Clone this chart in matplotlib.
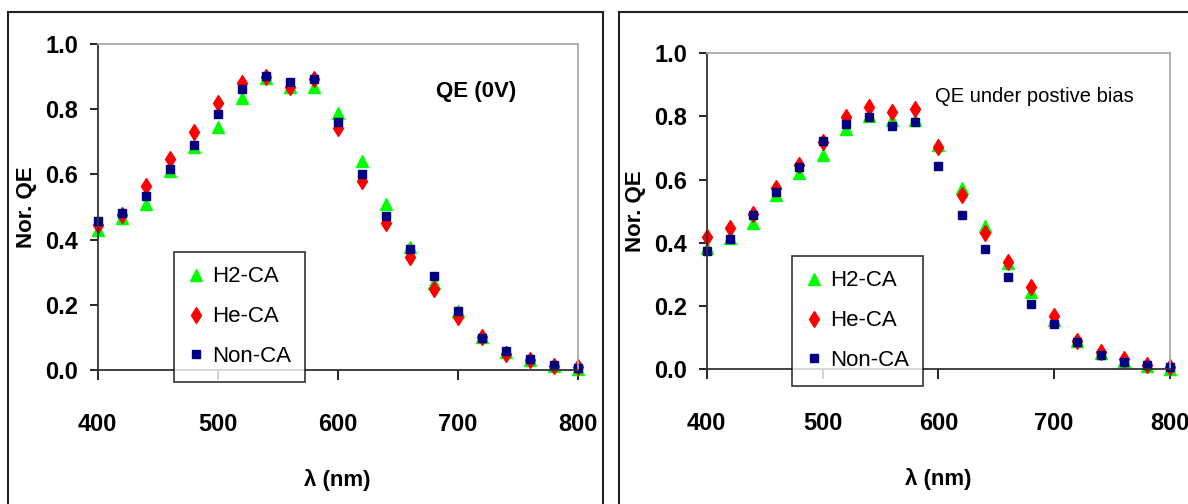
import matplotlib.pyplot as plt
import matplotlib.patches as patches

# wavelength (nm)
wavelength = [400, 420, 440, 460, 480, 500, 520, 540, 560, 580, 600,
              620, 640, 660, 680, 700, 720, 740, 760, 780, 800]

# QE at 0 V
h2_0v = [0.430, 0.465, 0.509, 0.610, 0.685, 0.746, 0.833, 0.895, 0.867, 0.867, 0.789,
         0.642, 0.509, 0.378, 0.268, 0.180, 0.100, 0.055, 0.030, 0.012, 0.003]
he_0v = [0.445, 0.475, 0.565, 0.646, 0.731, 0.820, 0.879, 0.900, 0.869, 0.893, 0.741,
         0.581, 0.452, 0.348, 0.250, 0.164, 0.100, 0.050, 0.030, 0.012, 0.010]
non_0v = [0.458, 0.483, 0.534, 0.616, 0.690, 0.785, 0.861, 0.903, 0.884, 0.893, 0.762,
          0.600, 0.472, 0.371, 0.288, 0.181, 0.098, 0.059, 0.034, 0.015, 0.006]

# QE under positive bias
h2_pb = [0.382, 0.415, 0.461, 0.551, 0.620, 0.678, 0.759, 0.800, 0.790, 0.790, 0.710,
         0.572, 0.453, 0.335, 0.243, 0.155, 0.090, 0.050, 0.025, 0.010, 0.000]
he_pb = [0.419, 0.446, 0.490, 0.572, 0.645, 0.720, 0.797, 0.829, 0.815, 0.825, 0.702,
         0.551, 0.430, 0.340, 0.261, 0.168, 0.090, 0.055, 0.033, 0.013, 0.005]
non_pb = [0.375, 0.412, 0.488, 0.562, 0.639, 0.723, 0.775, 0.797, 0.771, 0.783, 0.643,
          0.488, 0.381, 0.292, 0.207, 0.144, 0.087, 0.044, 0.023, 0.014, 0.005]

labels = ['H2-CA', 'He-CA', 'Non-CA']
plt.rcParams['font.family'] = ['Liberation Sans', 'DejaVu Sans']

fig = plt.figure(figsize=(11.88, 5.04), dpi=100)
W, H = 1188.0, 504.0

# panel frames
for x0, x1 in [(8, 603), (619, 1190)]:
    fig.patches.append(patches.Rectangle((x0 / W, -0.05), (x1 - x0) / W, (504 - 12) / H + 0.05,
                                         transform=fig.transFigure, fill=False,
                                         edgecolor='#222222', linewidth=1.5))


def draw_panel(rect, h2, he, non, title, title_xy, title_kw, leg_xy):
    ax = fig.add_axes(rect)
    ax.plot(wavelength, h2, linestyle='none', marker='^', ms=8, color='#00ff00', label=labels[0], clip_on=False)
    ax.plot(wavelength, he, linestyle='none', marker='d', ms=8, color='#ff0000', label=labels[1], clip_on=False)
    ax.plot(wavelength, non, linestyle='none', marker='s', ms=6, color='#000080', label=labels[2], clip_on=False)
    ax.set_xlim(400, 800)
    ax.set_ylim(0, 1.0)
    ax.set_xticks([400, 500, 600, 700, 800])
    ax.set_yticks([0.0, 0.2, 0.4, 0.6, 0.8, 1.0])
    ax.set_yticklabels(['0.0', '0.2', '0.4', '0.6', '0.8', '1.0'])
    ax.spines['left'].set_color('#333333')
    ax.spines['bottom'].set_color('#333333')
    ax.spines['top'].set_color('#aaaaaa')
    ax.spines['right'].set_color('#aaaaaa')
    for s in ax.spines.values():
        s.set_linewidth(1.3)
    ax.tick_params(axis='y', direction='out', length=6, width=1.2, pad=8, labelsize=17)
    ax.tick_params(axis='x', direction='out', length=7, width=1.2, pad=24, labelsize=17)
    for t in ax.get_xticklabels() + ax.get_yticklabels():
        t.set_fontweight('bold')
    ax.set_xlabel('λ (nm)', fontsize=16, fontweight='bold', labelpad=24)
    ax.set_ylabel('Nor. QE', fontsize=16, fontweight='bold', labelpad=6)
    fig.text(title_xy[0] / W, 1 - title_xy[1] / H, title, va='center', **title_kw)
    leg = ax.legend(loc='upper left', bbox_to_anchor=(leg_xy[0] / W, 1 - leg_xy[1] / H),
                    bbox_transform=fig.transFigure, fontsize=16, frameon=True, fancybox=False,
                    edgecolor='black', handlelength=0.7, handletextpad=0.35, labelspacing=0.85,
                    borderpad=0.65, borderaxespad=0, markerscale=1.0)
    leg.get_frame().set_linewidth(1.2)
    leg.set_zorder(10)
    return ax


draw_panel([97.7 / W, (504 - 370) / H, 480 / W, 326 / H], h2_0v, he_0v, non_0v,
           'QE (0V)', (436, 92), dict(ha='left', fontsize=16, fontweight='bold'), (174, 252))
draw_panel([706.7 / W, (504 - 369) / H, 463.3 / W, 315.7 / H], h2_pb, he_pb, non_pb,
           'QE under postive bias', (935, 97), dict(ha='left', fontsize=14.5), (792, 256))

fig.savefig('out.png', dpi=100)
